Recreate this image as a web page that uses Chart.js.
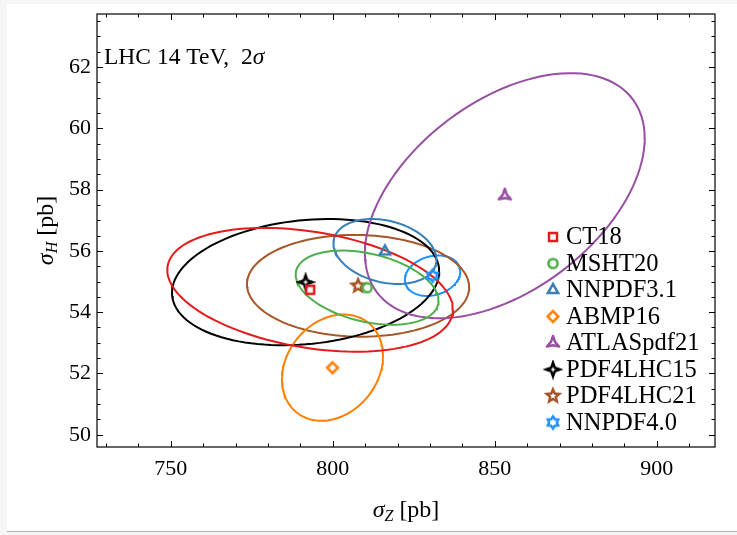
<!DOCTYPE html>
<html>
<head>
<meta charset="utf-8">
<script src="https://cdn.jsdelivr.net/npm/chart.js@4.4.0/dist/chart.umd.min.js"></script>
<style>
  html, body { margin: 0; padding: 0; background: #f6f6f6; }
  #wrap { position: absolute; left: 7px; top: 4px; width: 730px; height: 527px; background: #fff; border-bottom: 1px solid #b0b0b0; }
  #c { position: absolute; left: -7px; top: -4px; }
</style>
</head>
<body>
<div id="wrap"><canvas id="c" width="737" height="535"></canvas></div>
<script>
// PDF sets, central values (pb) and 2-sigma ellipse extents
var models  = ['CT18', 'MSHT20', 'NNPDF3.1', 'ABMP16', 'ATLASpdf21', 'PDF4LHC15', 'PDF4LHC21', 'NNPDF4.0'];
var sigmaZ  = [793.0, 810.6, 816.1, 799.9, 853.1, 791.6, 807.8, 830.8];
var sigmaH  = [54.73, 54.80, 55.98, 52.19, 57.80, 54.98, 54.86, 55.19];
var halfZ   = [44.1, 22.05, 15.9, 15.6, 43.2, 41.25, 34.3, 8.55];
var halfH   = [2.02, 1.21, 1.06, 1.735, 4.0, 2.06, 1.66, 0.66];
var rho     = [-0.32, -0.35, -0.25, 0.22, 0.47, 0.17, -0.03, 0.2];
var colors  = ['#e41a1c', '#4daf4a', '#377eb8', '#ff7f00', '#984ea3', '#000000', '#a65628', '#1e90ff'];
var shapes  = ['square', 'circle', 'triangle', 'diamond', 'tri3', 'star4', 'star5', 'star6'];
var xTicks  = [750, 800, 850, 900];
var yTicks  = [50, 52, 54, 56, 58, 60, 62];

var serif = "'Liberation Serif', 'DejaVu Serif', serif";

function starPath(ctx, n, ro, ri) {
  ctx.beginPath();
  for (var k = 0; k < 2 * n; k++) {
    var r = k % 2 === 0 ? ro : ri;
    var a = k * Math.PI / n;
    var px = 10 + r * Math.sin(a), py = 10 - r * Math.cos(a);
    if (k === 0) ctx.moveTo(px, py); else ctx.lineTo(px, py);
  }
  ctx.closePath();
}

function makeMarker(shape, color) {
  var cv = document.createElement('canvas');
  cv.width = 20; cv.height = 20;
  var ctx = cv.getContext('2d');
  ctx.strokeStyle = color;
  ctx.lineWidth = 2.5;
  ctx.lineJoin = 'miter';
  if (shape === 'square') {
    ctx.strokeRect(6, 6, 8, 8);
  } else if (shape === 'circle') {
    ctx.beginPath(); ctx.arc(10, 10, 4.6, 0, 2 * Math.PI); ctx.stroke();
  } else if (shape === 'triangle') {
    starPath(ctx, 3, 6.0, 3.0); ctx.stroke();
  } else if (shape === 'diamond') {
    ctx.beginPath();
    ctx.moveTo(10, 4.6); ctx.lineTo(15.4, 10); ctx.lineTo(10, 15.4); ctx.lineTo(4.6, 10); ctx.closePath();
    ctx.stroke();
  } else if (shape === 'tri3') {
    ctx.lineJoin = 'round';
    starPath(ctx, 3, 7.0, 2.3); ctx.stroke();
  } else if (shape === 'star4') {
    starPath(ctx, 4, 6.8, 2.5); ctx.stroke();
  } else if (shape === 'star5') {
    starPath(ctx, 5, 6.6, 3.0); ctx.stroke();
  } else if (shape === 'star6') {
    starPath(ctx, 6, 6.0, 3.8); ctx.stroke();
  }
  return cv;
}

var markers = shapes.map(function (s, i) { return makeMarker(s, colors[i]); });

function ellipsePoints(i) {
  var pts = [];
  var s = Math.sqrt(1 - rho[i] * rho[i]);
  for (var k = 0; k <= 120; k++) {
    var t = k / 120 * 2 * Math.PI;
    pts.push({
      x: sigmaZ[i] + halfZ[i] * Math.cos(t),
      y: sigmaH[i] + halfH[i] * (rho[i] * Math.cos(t) + s * Math.sin(t))
    });
  }
  return pts;
}

var datasets = [];
models.forEach(function (m, i) {
  datasets.push({
    label: m + ' ellipse',
    data: ellipsePoints(i),
    showLine: true,
    borderColor: colors[i],
    borderWidth: 2,
    pointRadius: 0,
    fill: false,
    order: 1
  });
});
models.forEach(function (m, i) {
  datasets.push({
    label: m,
    data: [{ x: sigmaZ[i], y: sigmaH[i] }],
    pointStyle: markers[i],
    borderColor: colors[i],
    order: 0
  });
});

function drawTicks(ctx, scale, values, len, horizontal, area) {
  values.forEach(function (v) {
    var p = Math.round(scale.getPixelForValue(v)) + 0.5;
    ctx.beginPath();
    if (horizontal) {
      ctx.moveTo(p, area.bottom); ctx.lineTo(p, area.bottom - len);
      ctx.moveTo(p, area.top); ctx.lineTo(p, area.top + len);
    } else {
      ctx.moveTo(area.left, p); ctx.lineTo(area.left + len, p);
      ctx.moveTo(area.right, p); ctx.lineTo(area.right - len, p);
    }
    ctx.stroke();
  });
}

var decor = {
  id: 'decor',
  afterDraw: function (chart) {
    var ctx = chart.ctx, a = chart.chartArea;
    var xs = chart.scales.x, ys = chart.scales.y;
    ctx.save();
    ctx.strokeStyle = '#000';
    ctx.lineWidth = 1;
    // inward ticks
    var minorX = [], minorY = [];
    for (var v = 730; v <= 915; v += 10) if (xTicks.indexOf(v) < 0) minorX.push(v);
    for (var w = 50; w <= 63.5; w += 0.5) if (yTicks.indexOf(w) < 0) minorY.push(w);
    drawTicks(ctx, xs, xTicks, 6, true, a);
    drawTicks(ctx, xs, minorX, 3.5, true, a);
    drawTicks(ctx, ys, yTicks, 6, false, a);
    drawTicks(ctx, ys, minorY, 3.5, false, a);
    // frame
    ctx.lineWidth = 1.2;
    ctx.strokeRect(a.left, a.top, a.right - a.left, a.bottom - a.top);

    ctx.fillStyle = '#000';
    ctx.textBaseline = 'alphabetic';
    // annotation
    ctx.textAlign = 'left';
    ctx.font = '23.5px ' + serif;
    var label = 'LHC 14 TeV,  2';
    ctx.fillText(label, 104, 64);
    var lw = ctx.measureText(label).width;
    ctx.font = 'italic 23.5px ' + serif;
    ctx.fillText('\u03c3', 104 + lw, 64);

    // axis titles
    function axisTitle(sub, cx, cy) {
      ctx.font = 'italic 24px ' + serif;
      var w1 = ctx.measureText('\u03c3').width;
      ctx.font = 'italic 16px ' + serif;
      var w2 = ctx.measureText(sub).width;
      ctx.font = '24px ' + serif;
      var w3 = ctx.measureText(' [pb]').width;
      var x0 = cx - (w1 + w2 + w3) / 2;
      ctx.font = 'italic 24px ' + serif;
      ctx.fillText('\u03c3', x0, cy);
      ctx.font = 'italic 16px ' + serif;
      ctx.fillText(sub, x0 + w1, cy + 4);
      ctx.font = '24px ' + serif;
      ctx.fillText(' [pb]', x0 + w1 + w2, cy);
    }
    axisTitle('Z', (a.left + a.right) / 2, 517);
    ctx.save();
    ctx.translate(53, (a.top + a.bottom) / 2);
    ctx.rotate(-Math.PI / 2);
    axisTitle('H', 0, 0);
    ctx.restore();

    // legend
    ctx.font = '24.5px ' + serif;
    ctx.textBaseline = 'middle';
    models.forEach(function (m, i) {
      var y = 237 + i * 26.5;
      ctx.drawImage(markers[i], 553 - 10, y - 10);
      ctx.fillText(m, 566, y + 1);
    });
    ctx.restore();
  }
};

new Chart(document.getElementById('c'), {
  type: 'scatter',
  data: { datasets: datasets },
  plugins: [decor],
  options: {
    responsive: false,
    animation: false,
    layout: { padding: { top: 14, right: 22, left: 0, bottom: 0 } },
    plugins: { legend: { display: false }, tooltip: { enabled: false } },
    scales: {
      x: {
        type: 'linear', min: 727.2, max: 918,
        grid: { display: false, drawTicks: false },
        border: { display: false },
        ticks: { color: '#000', font: { family: serif, size: 22 }, padding: 9, includeBounds: false },
        afterBuildTicks: function (s) { s.ticks = xTicks.map(function (v) { return { value: v }; }); },
        afterFit: function (s) { s.height = 88; s.paddingLeft = 0; s.paddingRight = 0; }
      },
      y: {
        type: 'linear', min: 49.6, max: 63.73,
        grid: { display: false, drawTicks: false },
        border: { display: false },
        ticks: { color: '#000', font: { family: serif, size: 22 }, padding: 6, includeBounds: false },
        afterBuildTicks: function (s) { s.ticks = yTicks.map(function (v) { return { value: v }; }); },
        afterFit: function (s) { s.width = 97; s.paddingTop = 0; s.paddingBottom = 0; }
      }
    }
  }
});
</script>
</body>
</html>
